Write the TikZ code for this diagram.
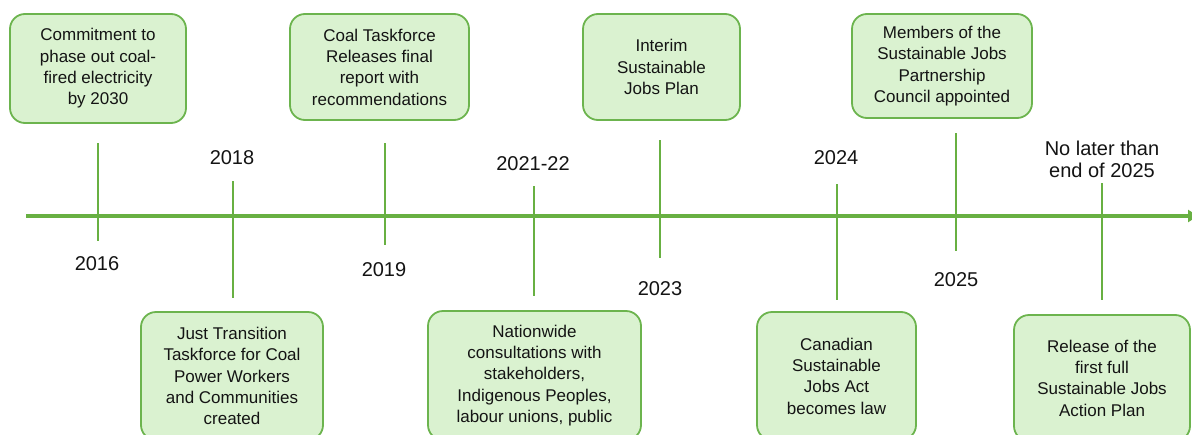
\documentclass[tikz,border=0pt]{standalone}
\usepackage{fontspec}
\setmainfont{Liberation Sans}
\usetikzlibrary{arrows.meta}
\definecolor{lineGreen}{RGB}{104,176,66}
\definecolor{boxEdge}{RGB}{108,180,78}
\definecolor{boxFill}{RGB}{218,242,208}
\definecolor{ink}{RGB}{20,20,20}
\tikzset{
  event/.style={draw=boxEdge, fill=boxFill, line width=1.8pt, rounded corners=15pt,
    align=center, text=ink, font=\fontsize{17}{21.3}\selectfont, inner sep=0pt},
  year/.style={text=ink, font=\fontsize{20}{22}\selectfont, align=center, inner sep=0pt},
  tick/.style={draw=lineGreen, line width=1.8pt},
  axis/.style={draw=lineGreen, line width=4pt, -{Triangle[length=10pt,width=12pt]}}
}
\begin{document}
\begin{tikzpicture}[x=1pt,y=-1pt]
\clip (0,0) rectangle (1192,434);
\fill[white] (0,0) rectangle (1192,434);

% timeline axis
\coordinate (axL) at (26,216);
\coordinate (axR) at (1198,216);
\draw[axis] (axL) -- (axR);

% events above the axis
\node[event, minimum width=176pt, minimum height=109pt] (e1) at (98,68.5)
  {Commitment to\\phase out coal-\\fired electricity\\by 2030};
\node[event, minimum width=179pt, minimum height=106pt] (e3) at (379.5,67)
  {Coal Taskforce\\Releases final\\report with\\recommendations};
\node[event, minimum width=157pt, minimum height=106pt] (e5) at (661.5,67)
  {Interim\\Sustainable\\Jobs Plan};
\node[event, minimum width=180pt, minimum height=104pt] (e7) at (942,66)
  {Members of the\\Sustainable Jobs\\Partnership\\Council appointed};

% events below the axis
\node[event, minimum width=182pt, minimum height=128pt] (e2) at (232,376)
  {Just Transition\\Taskforce for Coal\\Power Workers\\and Communities\\created};
\node[event, minimum width=213pt, minimum height=129pt] (e4) at (534.5,375.5)
  {Nationwide\\consultations with\\stakeholders,\\Indigenous Peoples,\\labour unions, public};
\node[event, minimum width=159pt, minimum height=128pt] (e6) at (836.5,376)
  {Canadian\\Sustainable\\Jobs Act\\becomes law};
\node[event, minimum width=176pt, minimum height=126pt] (e8) at (1102,378)
  {Release of the\\first full\\Sustainable Jobs\\Action Plan};

% tick marks
\coordinate (t1a) at (98,143);   \coordinate (t1b) at (98,241);
\coordinate (t2a) at (233,181);  \coordinate (t2b) at (233,298);
\coordinate (t3a) at (385,143);  \coordinate (t3b) at (385,245);
\coordinate (t4a) at (534,186);  \coordinate (t4b) at (534,296);
\coordinate (t5a) at (660,140);  \coordinate (t5b) at (660,258);
\coordinate (t6a) at (837,184);  \coordinate (t6b) at (837,300);
\coordinate (t7a) at (956,133);  \coordinate (t7b) at (956,251);
\coordinate (t8a) at (1102,183); \coordinate (t8b) at (1102,300);
\foreach \i in {1,...,8} \draw[tick] (t\i a) -- (t\i b);

% year labels
\node[year] (y1) at (97,264) {2016};
\node[year] (y2) at (232,158) {2018};
\node[year] (y3) at (384,270) {2019};
\node[year] (y4) at (533,164) {2021-22};
\node[year] (y5) at (660,289) {2023};
\node[year] (y6) at (836,158) {2024};
\node[year] (y7) at (956,280) {2025};
\node[year] (y8) at (1102,159) {No later than\\end of 2025};
\end{tikzpicture}
\end{document}
